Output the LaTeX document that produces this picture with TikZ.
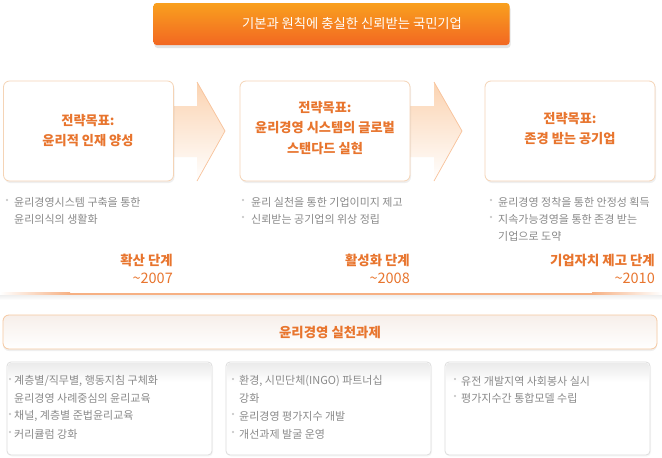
\documentclass[tikz,border=0pt]{standalone}
\usepackage{fontspec}
\setmainfont{Noto Sans CJK KR}
\usetikzlibrary{shadows}
\definecolor{org}{HTML}{E8752E}
\definecolor{gtxt}{HTML}{8A8A8A}
\definecolor{bdr}{HTML}{F5D4B6}
\definecolor{peach}{HTML}{FBD3B1}
\definecolor{arrline}{HTML}{F8C29A}
\definecolor{bnA}{HTML}{F9A01E}
\definecolor{bnB}{HTML}{F26722}
\definecolor{gbdr}{HTML}{DCDCDC}
\definecolor{barbdr}{HTML}{F6C8A0}
\definecolor{barfill}{HTML}{F7EFEA}
\definecolor{hline}{HTML}{F6B083}
\begin{document}
\begin{tikzpicture}[x=1pt,y=-1pt,
  goalbox/.style={draw=bdr, line width=0.8pt, fill=white, rounded corners=6pt,
    minimum width=170pt, minimum height=100pt, inner sep=0,
    drop shadow={opacity=0.12, shadow xshift=1pt, shadow yshift=-2pt}},
  goaltxt/.style={text=org, font=\fontsize{13.2}{20.8}\selectfont\bfseries, align=center, inner sep=0},
  bodytxt/.style={text=gtxt, font=\fontsize{11}{17}\selectfont, anchor=west, inner sep=0},
  stagetxt/.style={text=org, font=\fontsize{13.4}{15}\selectfont\bfseries, anchor=east, inner sep=0},
  yeartxt/.style={text=org, font=\fontsize{14.5}{16}\selectfont, anchor=east, inner sep=0},
  dotb/.style={fill=black!25, draw=none, circle, inner sep=0, minimum size=2.2pt},
  banner/.style={rounded corners=3pt, top color=bnA, bottom color=bnB, draw=none,
    minimum width=356pt, minimum height=42pt, inner sep=0,
    drop shadow={opacity=0.22, shadow xshift=1pt, shadow yshift=-3pt}},
  barbox/.style={draw=barbdr, line width=0.8pt, rounded corners=6pt, top color=barfill, bottom color=white,
    minimum width=654pt, minimum height=34pt, inner sep=0,
    drop shadow={opacity=0.12, shadow xshift=0pt, shadow yshift=-2pt}},
  taskbox/.style={draw=gbdr, line width=0.8pt, fill=white, rounded corners=4pt,
    minimum width=205pt, minimum height=93pt, inner sep=0,
    drop shadow={opacity=0.06, shadow xshift=1pt, shadow yshift=-1.5pt}},
  arrowshape/.style={top color=peach, bottom color=white, draw=none}
]
\useasboundingbox (0,0) rectangle (662,458);
\fill[white] (0,0) rectangle (662,458);

% banner
\node[banner] (ban) at (331.5,24) {};
\node[text=white, font=\fontsize{13.3}{15}\selectfont, inner sep=0] (bantxt) at (352,23) {기본과 원칙에 충실한 신뢰받는 국민기업};

% arrows
\shade[arrowshape] (173,106) -- (197,106) -- (197,82) -- (225,131) -- (197,181) -- (197,157) -- (173,157) -- cycle;
\draw[arrline, line width=0.7pt] (197,82) -- (225,131) -- (197,181);
\shade[arrowshape] (410,106) -- (434,106) -- (434,82) -- (462,131) -- (434,181) -- (434,157) -- (410,157) -- cycle;
\draw[arrline, line width=0.7pt] (434,82) -- (462,131) -- (434,181);

% goal boxes
\node[goalbox] (g1) at (88.5,131) {};
\node[goalbox] (g2) at (325,131) {};
\node[goalbox] (g3) at (570,131) {};
\node[goaltxt] (g1t) at (88,130.5) {전략목표:\\윤리적 인재 양성};
\node[goaltxt] (g2t) at (325,128) {전략목표:\\윤리경영 시스템의 글로벌\\스탠다드 실현};
\node[goaltxt] (g3t) at (570,128.5) {전략목표:\\존경 받는 공기업};

% bullets under goals
\node[dotb] (d11) at (7,200) {};
\node[bodytxt] (t11) at (14,202) {윤리경영시스템 구축을 통한};
\node[bodytxt] (t12) at (14,219) {윤리의식의 생활화};

\node[dotb] (d21) at (243,200) {};
\node[bodytxt] (t21) at (251,202) {윤리 실천을 통한 기업이미지 제고};
\node[dotb] (d22) at (243,217) {};
\node[bodytxt] (t22) at (251,219) {신뢰받는 공기업의 위상 정립};

\node[dotb] (d31) at (491,200) {};
\node[bodytxt] (t31) at (498,202) {윤리경영 정착을 통한 안정성 획득};
\node[dotb] (d32) at (491,217) {};
\node[bodytxt] (t32) at (498,219) {지속가능경영을 통한 존경 받는};
\node[bodytxt] (t33) at (498,236) {기업으로 도약};

% stage labels
\node[stagetxt] (s1) at (173,260) {확산 단계};
\node[yeartxt] (y1) at (173,278) {\textasciitilde2007};
\node[stagetxt] (s2) at (410,260) {활성화 단계};
\node[yeartxt] (y2) at (410,278) {\textasciitilde2008};
\node[stagetxt] (s3) at (655,260) {기업자치 제고 단계};
\node[yeartxt] (y3) at (655,278) {\textasciitilde2010};

% horizontal gradient line
\shade[top color=black!7, bottom color=white] (0,294.5) rectangle (662,300);
\shade[left color=white, right color=hline] (0,292.5) rectangle (70,294.5);
\fill[hline] (70,292.5) rectangle (592,294.5);
\shade[left color=hline, right color=white] (592,292.5) rectangle (662,294.5);

% bar
\node[barbox] (bar) at (330,332) {};
\node[text=org, font=\fontsize{13.4}{16}\selectfont\bfseries, inner sep=0] (bart) at (330,332) {윤리경영 실천과제};

% task boxes
\node[taskbox] (ta) at (109.5,408.5) {};
\node[taskbox] (tb) at (328.5,408.5) {};
\node[taskbox] (tc) at (547.5,408.5) {};
\shade[top color=black!8, bottom color=white, rounded corners=3pt] (8,363) rectangle (211,382);
\shade[top color=black!8, bottom color=white, rounded corners=3pt] (227,363) rectangle (430,382);
\shade[top color=black!8, bottom color=white, rounded corners=3pt] (446,363) rectangle (649,382);

\node[dotb] (da1) at (10,379) {};
\node[bodytxt] (ta1) at (14,381) {계층별/직무별, 행동지침 구체화};
\node[bodytxt] (ta2) at (14,398) {윤리경영 사례중심의 윤리교육};
\node[dotb] (da3) at (10,414) {};
\node[bodytxt] (ta3) at (14,416) {채널, 계층별 준법윤리교육};
\node[dotb] (da4) at (10,432) {};
\node[bodytxt] (ta4) at (14,434) {커리큘럼 강화};

\node[dotb] (db1) at (233,379) {};
\node[bodytxt] (tb1) at (239,381) {환경, 시민단체(INGO) 파트너십};
\node[bodytxt] (tb2) at (239,398) {강화};
\node[dotb] (db3) at (233,414) {};
\node[bodytxt] (tb3) at (239,416) {윤리경영 평가지수 개발};
\node[dotb] (db4) at (233,432) {};
\node[bodytxt] (tb4) at (239,434) {개선과제 발굴 운영};

\node[dotb] (dc1) at (455,379) {};
\node[bodytxt] (tc1) at (461,381) {유전 개발지역 사회봉사 실시};
\node[dotb] (dc2) at (455,396) {};
\node[bodytxt] (tc2) at (461,398) {평가지수간 통합모델 수립};
\end{tikzpicture}
\end{document}
